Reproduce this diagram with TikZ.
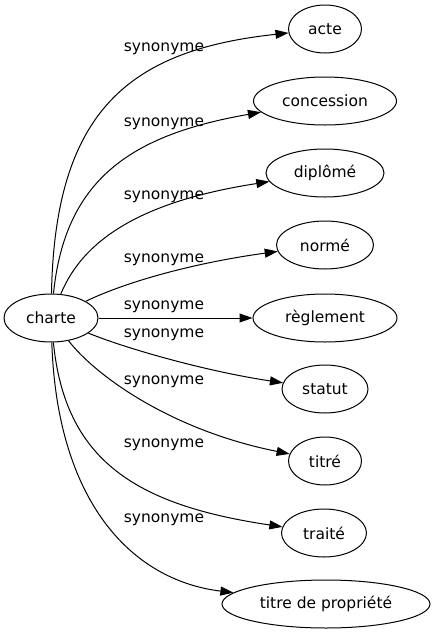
\documentclass[tikz,border=0pt]{standalone}
\usepackage{fontspec}
\setmainfont{DejaVu Sans}
\usetikzlibrary{shapes.geometric,arrows.meta}

\def\fs{15.5}

\begin{document}
\begin{tikzpicture}[x=1pt, y=-1pt, line width=1pt, >={Triangle[length=13pt,width=9pt]},
	every node/.style={ellipse,draw,line width=1pt,inner xsep=4pt,inner ysep=2pt,minimum height=48pt,font=\fontsize{\fs}{18}\selectfont},
	lab/.style={rectangle,draw=none,inner sep=0pt,minimum width=0pt,minimum height=0pt}]
		
		\useasboundingbox (0,0) rectangle (432,635);
		
		\node (A) at (51,318) [minimum width=94pt]  {charte};
		\node (B) at (325,29) [minimum width=73pt]  {acte};
		\node (C) at (325,101) [minimum width=143pt]  {concession};
		\node (D) at (325,173) [minimum width=118pt]  {diplômé};
		\node (E) at (325,245) [minimum width=97pt]  {normé};
		\node (F) at (325,318) [minimum width=144pt]  {règlement};
		\node (G) at (325,389) [minimum width=86pt]  {statut};
		\node (H) at (325,461) [minimum width=73pt]  {titré};
		\node (I) at (324,533) [minimum width=85pt]  {traité};
		\node (J) at (326,604) [minimum width=208pt]  {titre de propriété};
		
		\draw[->] (A) .. controls (55,110) and (130,50) .. (B);
		\draw[->] (A) .. controls (65,180) and (130,135) .. (C);
		\draw[->] (A) .. controls (85,235) and (150,200) .. (D);
		\draw[->] (A) .. controls (130,280) and (200,262) .. (E);
		\draw[->] (A) -- (F);
		\draw[->] (A) .. controls (130,350) and (210,372) .. (G);
		\draw[->] (A) .. controls (95,375) and (170,430) .. (H);
		\draw[->] (A) .. controls (65,460) and (135,505) .. (I);
		\draw[->] (A) .. controls (57,500) and (130,580) .. (J);
		
		\node (AB) at (164,49) [lab]  {synonyme};
		\node (AC) at (164,124) [lab]  {synonyme};
		\node (AD) at (164,197) [lab]  {synonyme};
		\node (AE) at (164,260) [lab]  {synonyme};
		\node (AF) at (164,307) [lab]  {synonyme};
		\node (AG) at (164,335) [lab]  {synonyme};
		\node (AH) at (164,382) [lab]  {synonyme};
		\node (AI) at (164,445) [lab]  {synonyme};
		\node (AJ) at (164,520) [lab]  {synonyme};

	\end{tikzpicture}
\end{document}
